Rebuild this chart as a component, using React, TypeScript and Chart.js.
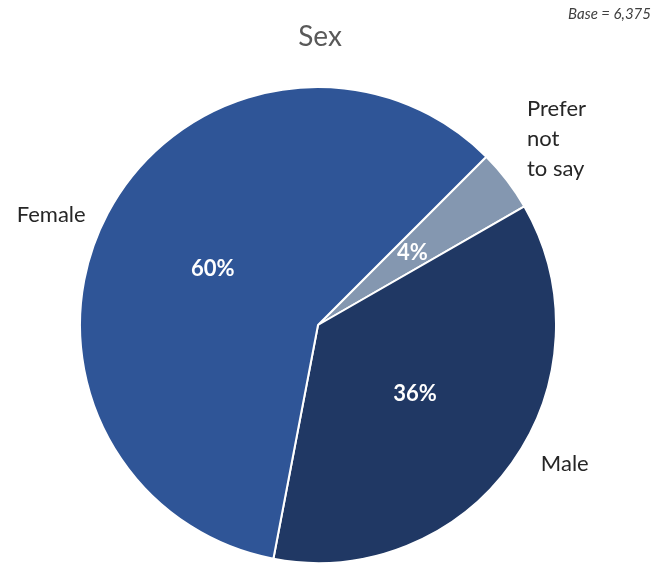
import React, { useEffect, useRef } from "react";
import { Chart, registerables } from "chart.js";

Chart.register(...registerables);

const categories = ["Prefer not to say", "Male", "Female"];
const labelLines = [["Prefer", "not", "to say"], ["Male"], ["Female"]];
const values = [4.2, 36.3, 59.5];
const colors = ["#8497B0", "#203864", "#2F5597"];
const titleText = "Sex";
const baseText = "Base = 6,375";

// label layout offsets relative to slice edge midpoint (dx, dy, align)
const labelOffsets: [number, number, CanvasTextAlign][] = [
  [20, -41, "left"],
  [29, 1, "left"],
  [-22, 1, "right"],
];

const FONT = "Lato, 'Open Sans', sans-serif";

const textPlugin = {
  id: "textPlugin",
  afterDraw(chart: any) {
    const ctx = chart.ctx as CanvasRenderingContext2D;
    const meta = chart.getDatasetMeta(0);
    ctx.save();
    ctx.textBaseline = "middle";
    // title
    ctx.fillStyle = "#595959";
    ctx.font = `28px ${FONT}`;
    ctx.textAlign = "center";
    ctx.fillText(titleText, 320, 37);
    // base
    ctx.fillStyle = "#404040";
    ctx.font = `italic 15px ${FONT}`;
    ctx.textAlign = "right";
    ctx.fillText(baseText, 651, 14);

    meta.data.forEach((arc: any, i: number) => {
      const { x, y, startAngle, endAngle, outerRadius } = arc.getProps(
        ["x", "y", "startAngle", "endAngle", "outerRadius"],
        true
      );
      const mid = (startAngle + endAngle) / 2;
      // percentage
      const px = x + Math.cos(mid) * outerRadius * 0.5;
      const py = y + Math.sin(mid) * outerRadius * 0.5;
      ctx.fillStyle = "#FFFFFF";
      ctx.font = `bold 22px ${FONT}`;
      ctx.textAlign = "center";
      ctx.fillText(`${Math.round(values[i])}%`, px, py);
      // category label
      const ex = x + Math.cos(mid) * outerRadius;
      const ey = y + Math.sin(mid) * outerRadius;
      const [dx, dy, align] = labelOffsets[i];
      const lines = labelLines[i];
      const lh = 30;
      const cy = ey + dy;
      ctx.fillStyle = "#262626";
      ctx.font = `22px ${FONT}`;
      ctx.textAlign = align;
      lines.forEach((ln, k) => {
        ctx.fillText(ln, ex + dx, cy + (k - (lines.length - 1) / 2) * lh);
      });
    });
    ctx.restore();
  },
};

export default function App() {
  const ref = useRef<HTMLCanvasElement>(null);
  useEffect(() => {
    if (!ref.current) return;
    const chart = new Chart(ref.current, {
      type: "pie",
      data: {
        labels: categories,
        datasets: [
          {
            data: values,
            backgroundColor: colors,
            borderColor: "#FFFFFF",
            borderWidth: 2,
          },
        ],
      },
      options: {
        responsive: false,
        animation: false,
        rotation: 45,
        layout: { padding: { left: 79, right: 98, top: 86, bottom: 3 } },
        plugins: {
          legend: { display: false },
          tooltip: { enabled: false },
          title: { display: false },
        },
      },
      plugins: [textPlugin],
    });
    return () => chart.destroy();
  }, []);
  return (
    <div style={{ position: "absolute", left: 0, top: 0, width: 655, height: 567, background: "#fff" }}>
      <canvas ref={ref} width={655} height={567} />
    </div>
  );
}
